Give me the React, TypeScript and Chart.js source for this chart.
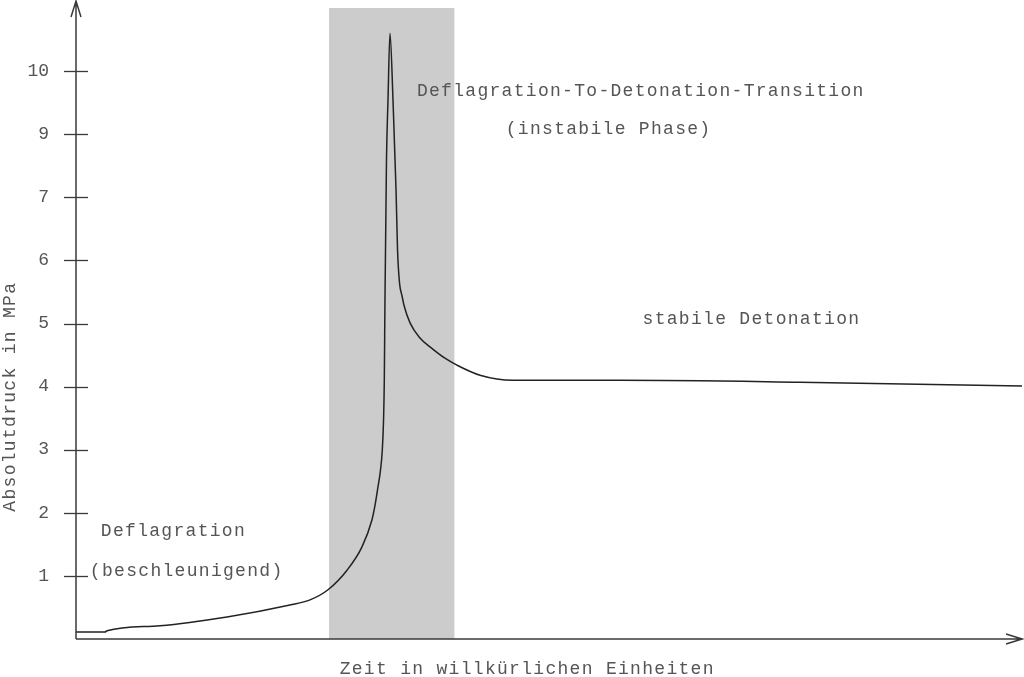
import React, { useEffect, useRef } from "react";
import { Chart, registerables } from "chart.js";

Chart.register(...registerables);

// Time (arbitrary units, 0..100) and pressure in axis units
const TIME = [0, 3.07, 3.28, 8.88, 15.96, 22.62, 24.74, 26.64, 28.65, 30.23, 31.29, 31.61, 31.92, 32.19, 32.38, 32.51, 32.59, 32.66, 32.82, 32.98, 33.19, 33.51, 33.83, 33.99, 34.2, 34.46, 34.67, 35.31, 36.36, 37.42, 39.0, 40.27, 42.71, 46.19, 57.5, 76.5, 100];
const PRESSURE = [0.11, 0.11, 0.13, 0.21, 0.35, 0.54, 0.62, 0.78, 1.09, 1.46, 1.89, 2.12, 2.41, 2.68, 3.0, 3.47, 4.1, 5.37, 7.59, 8.54, 9.6, 8.54, 7.12, 6.16, 5.64, 5.44, 5.29, 5.01, 4.77, 4.63, 4.45, 4.34, 4.18, 4.1, 4.1, 4.07, 4.01];

const Y_TICK_VALUES = [1, 2, 3, 4, 5, 6, 7, 8, 9];
const Y_TICK_LABELS = ["1", "2", "3", "4", "5", "6", "7", "9", "10"];

// DDT (unstable phase) band on the time axis
const SHADE_START = 26.75;
const SHADE_END = 40.0;

const X_TITLE = "Zeit in willkürlichen Einheiten";
const Y_TITLE = "Absolutdruck in MPa";

const NOTES = [
  { text: "Deflagration-To-Detonation-Transition", x: 59.7, y: 8.68 },
  { text: "(instabile Phase)", x: 56.3, y: 8.08 },
  { text: "stabile Detonation", x: 71.4, y: 5.07 },
  { text: "Deflagration", x: 10.3, y: 1.7 },
  { text: "(beschleunigend)", x: 11.7, y: 1.08 },
];

const FONT = '18px "Liberation Mono", "DejaVu Sans Mono", monospace';
const TEXT_COLOR = "#555";
const AXIS_COLOR = "#3a3a3a";

const decorPlugin = {
  id: "decor",
  beforeDatasetsDraw(chart: any) {
    const { ctx, chartArea, scales } = chart;
    const x0 = scales.x.getPixelForValue(SHADE_START);
    const x1 = scales.x.getPixelForValue(SHADE_END);
    ctx.save();
    ctx.fillStyle = "#cccccc";
    ctx.fillRect(x0, chartArea.top, x1 - x0, chartArea.bottom - chartArea.top);
    ctx.restore();
  },
  afterDatasetsDraw(chart: any) {
    const { ctx, chartArea, scales } = chart;
    const left = chartArea.left;
    const bottom = scales.y.getPixelForValue(0);
    ctx.save();
    ctx.strokeStyle = AXIS_COLOR;
    ctx.lineWidth = 1.5;
    // y axis with arrow
    ctx.beginPath();
    ctx.moveTo(left, bottom);
    ctx.lineTo(left, 1);
    ctx.moveTo(left - 5, 17);
    ctx.lineTo(left, 1);
    ctx.lineTo(left + 5, 17);
    ctx.stroke();
    // x axis with arrow
    const right = chartArea.right;
    ctx.beginPath();
    ctx.moveTo(left, bottom);
    ctx.lineTo(right, bottom);
    ctx.moveTo(right - 16, bottom - 5);
    ctx.lineTo(right, bottom);
    ctx.lineTo(right - 16, bottom + 5);
    ctx.stroke();
    // y tick marks across the axis
    ctx.lineWidth = 1.3;
    Y_TICK_VALUES.forEach((v) => {
      const y = Math.round(scales.y.getPixelForValue(v)) + 0.5;
      ctx.beginPath();
      ctx.moveTo(left - 12, y);
      ctx.lineTo(left + 12, y);
      ctx.stroke();
    });
    // annotations
    ctx.fillStyle = TEXT_COLOR;
    ctx.font = FONT;
    (ctx as any).letterSpacing = "1.3px";
    ctx.textAlign = "center";
    ctx.textBaseline = "middle";
    NOTES.forEach((n) => {
      ctx.fillText(n.text, scales.x.getPixelForValue(n.x), scales.y.getPixelForValue(n.y));
    });
    // axis titles
    ctx.fillText(X_TITLE, scales.x.getPixelForValue(47.7), bottom + 30);
    ctx.translate(10, scales.y.getPixelForValue(3.84));
    ctx.rotate(-Math.PI / 2);
    ctx.fillText(Y_TITLE, 0, 0);
    (ctx as any).letterSpacing = "0px";
    ctx.restore();
  },
};

export default function App() {
  const ref = useRef<HTMLCanvasElement | null>(null);
  useEffect(() => {
    document.body.style.margin = "0";
    const canvas = ref.current;
    if (!canvas) return;
    const chart = new Chart(canvas, {
      type: "line",
      data: {
        datasets: [
          {
            data: TIME.map((t, i) => ({ x: t, y: PRESSURE[i] })),
            borderColor: "#222",
            borderWidth: 1.5,
            pointRadius: 0,
            fill: false,
            cubicInterpolationMode: "monotone",
          },
        ],
      },
      options: {
        animation: false,
        responsive: false,
        events: [],
        layout: { padding: { top: 8, right: 2, bottom: 38, left: 0 } },
        plugins: { legend: { display: false }, tooltip: { enabled: false } },
        scales: {
          x: {
            type: "linear",
            min: 0,
            max: 100,
            display: false,
          },
          y: {
            type: "linear",
            min: 0,
            max: 10,
            afterBuildTicks: (scale: any) => {
              scale.ticks = Y_TICK_VALUES.map((v) => ({ value: v }));
            },
            afterFit: (scale: any) => {
              scale.width = 76;
              scale.paddingTop = 0;
              scale.paddingBottom = 0;
            },
            grid: { display: false, drawTicks: false },
            border: { display: false },
            ticks: {
              padding: 27,
              color: TEXT_COLOR,
              font: { family: '"Liberation Mono", "DejaVu Sans Mono", monospace', size: 18 },
              callback: (value: any) => {
                const i = Y_TICK_VALUES.indexOf(Number(value));
                return i >= 0 ? Y_TICK_LABELS[i] : "";
              },
            },
          },
        },
      },
      plugins: [decorPlugin],
    } as any);
    return () => chart.destroy();
  }, []);
  return (
    <div style={{ position: "absolute", left: 0, top: 0, width: 1024, height: 677, background: "#fff" }}>
      <canvas ref={ref} width={1024} height={677} />
    </div>
  );
}
